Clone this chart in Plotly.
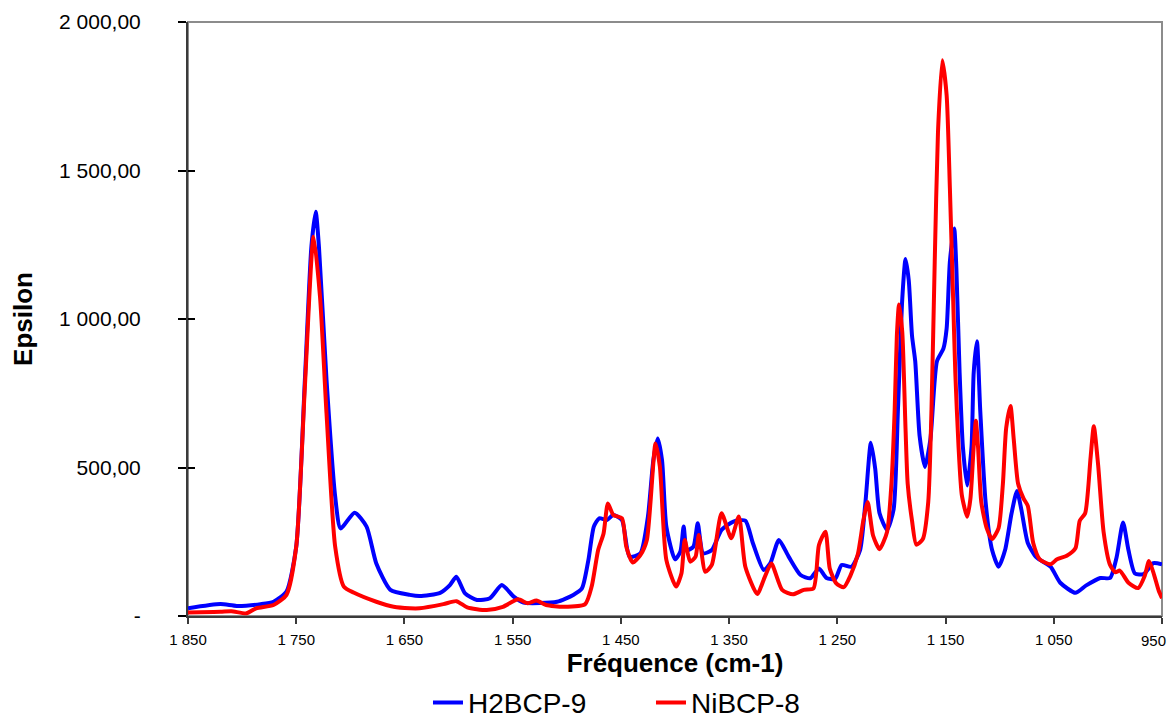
import plotly.graph_objects as go

# IR spectra: wavenumber (cm-1) and molar absorptivity
wn_h2 = [1850, 1820, 1805, 1783, 1771, 1759, 1750, 1742, 1736, 1732, 1729, 1722, 1714, 1709,
         1696, 1685, 1676, 1663, 1645, 1636, 1617, 1608, 1602, 1594, 1583, 1571, 1560, 1549,
         1540, 1509, 1494, 1486, 1480, 1475, 1470, 1463, 1457, 1449, 1442, 1432, 1425, 1420,
         1416, 1412, 1408, 1400, 1395, 1392, 1389, 1383, 1379, 1374, 1366, 1357, 1346, 1335,
         1328, 1318, 1312, 1304, 1295, 1284, 1275, 1267, 1260, 1252, 1246, 1237, 1229, 1224,
         1219, 1215, 1211, 1204, 1198, 1194, 1190, 1187, 1184, 1181, 1178, 1174, 1169, 1164,
         1158, 1152, 1149, 1146, 1142, 1140, 1137, 1134, 1130, 1126, 1124, 1121, 1118, 1113,
         1107, 1101, 1095, 1089, 1084, 1080, 1074, 1066, 1053, 1044, 1030, 1020, 1007, 998,
         992, 986, 981, 975, 967, 958, 950]
eps_h2 = [26, 40, 34, 40, 48, 82, 233, 795, 1243, 1361, 1243, 795, 402, 295,
          348, 301, 177, 88, 71, 67, 78, 104, 132, 76, 54, 60, 104, 65,
          45, 48, 71, 93, 189, 301, 329, 323, 340, 323, 200, 211, 335, 525,
          598, 525, 301, 191, 217, 301, 222, 233, 312, 211, 222, 290, 318, 321,
          245, 155, 177, 256, 200, 138, 127, 160, 128, 125, 172, 166, 222, 384,
          583, 496, 346, 290, 359, 695, 1068, 1202, 1130, 944, 857, 607, 502, 595,
          857, 900, 968, 1193, 1305, 1168, 819, 570, 439, 570, 819, 925, 695, 384,
          222, 166, 222, 346, 421, 359, 246, 197, 166, 112, 78, 103, 128, 128,
          197, 315, 222, 143, 141, 178, 174]

wn_ni = [1850, 1820, 1810, 1796, 1787, 1771, 1759, 1750, 1742, 1734, 1728, 1722, 1714, 1706,
         1697, 1676, 1660, 1645, 1636, 1614, 1602, 1592, 1574, 1559, 1545, 1536, 1528, 1519,
         1503, 1483, 1477, 1471, 1466, 1462, 1457, 1449, 1445, 1439, 1432, 1426, 1418, 1414,
         1408, 1399, 1394, 1391, 1386, 1381, 1378, 1372, 1366, 1357, 1348, 1341, 1335, 1324,
         1317, 1311, 1301, 1291, 1281, 1272, 1267, 1261, 1257, 1251, 1244, 1238, 1231, 1226,
         1222, 1217, 1211, 1204, 1200, 1197, 1195, 1193, 1190, 1187, 1185, 1181, 1177, 1171,
         1166, 1163, 1160, 1157, 1153, 1149, 1146, 1143, 1141, 1138, 1135, 1130, 1127, 1124,
         1122, 1120, 1117, 1112, 1107, 1101, 1097, 1094, 1090, 1087, 1083, 1078, 1074, 1069,
         1063, 1053, 1047, 1038, 1030, 1026, 1021, 1016, 1013, 1009, 1004, 998, 993, 989,
         981, 972, 966, 962, 958, 953, 950]
eps_ni = [12, 14, 16, 9, 26, 37, 71, 233, 772, 1277, 1075, 682, 233, 99,
          79, 48, 31, 26, 26, 40, 50, 29, 20, 31, 56, 43, 52, 37,
          31, 40, 99, 222, 278, 379, 340, 329, 233, 180, 205, 256, 581, 503,
          189, 99, 144, 256, 183, 200, 273, 149, 172, 346, 262, 335, 166, 74,
          132, 177, 88, 73, 88, 93, 239, 284, 160, 110, 97, 135, 209, 321,
          384, 271, 225, 284, 446, 695, 944, 1049, 956, 632, 446, 321, 240, 259,
          384, 695, 1193, 1629, 1871, 1753, 1441, 1068, 819, 570, 408, 334, 396, 570,
          657, 570, 384, 296, 259, 296, 446, 632, 707, 595, 446, 396, 371, 246,
          191, 174, 191, 203, 228, 321, 346, 533, 639, 508, 284, 172, 147, 153,
          112, 94, 135, 185, 147, 85, 60]

x_ticks = [1850, 1750, 1650, 1550, 1450, 1350, 1250, 1150, 1050, 950]
x_tick_text = ["1 850", "1 750", "1 650", "1 550", "1 450", "1 350", "1 250", "1 150", "1 050", "950"]
y_ticks = [0, 500, 1000, 1500, 2000]
y_tick_text = ["-", "500,00", "1 000,00", "1 500,00", "2 000,00"]

AXIS_COLOR = "#3a3a3a"
FRAME_COLOR = "#8c8c8c"
FONT = "Liberation Sans, Arial, sans-serif"
XTICK_FONT = dict(family=FONT, size=15, color="black")

fig = go.Figure()
fig.add_trace(go.Scatter(x=wn_h2, y=eps_h2, name="H2BCP-9", mode="lines",
                         line=dict(color="#0000ff", width=4, shape="spline", smoothing=0.6)))
fig.add_trace(go.Scatter(x=wn_ni, y=eps_ni, name="NiBCP-8", mode="lines",
                         line=dict(color="#ff0000", width=4, shape="spline", smoothing=0.6)))
# empty trace so the overlay axis (inner half of the crossing ticks) is drawn
fig.add_trace(go.Scatter(x=[None], y=[None], yaxis="y2", showlegend=False, hoverinfo="skip"))

# light frame around the plotting area (top and right edges show)
fig.add_shape(type="rect", xref="paper", yref="paper", x0=0, x1=1, y0=0, y1=1,
              line=dict(color=FRAME_COLOR, width=2), layer="below")

# the last x label sits at the page edge: draw it right-aligned so it stays visible
axis_labels = [t if v != x_ticks[-1] else "" for v, t in zip(x_ticks, x_tick_text)]
fig.add_annotation(x=x_ticks[-1], xref="x", y=0, yref="paper", text=x_tick_text[-1],
                   showarrow=False, xanchor="right", yanchor="top", xshift=6, yshift=-14,
                   font=XTICK_FONT)

fig.update_layout(
    width=1172, height=720,
    margin=dict(l=188, r=10, t=22, b=104, autoexpand=False),
    paper_bgcolor="white", plot_bgcolor="white",
    font=dict(family=FONT, color="black"),
    showlegend=True,
    legend=dict(orientation="h", x=0.2464, xanchor="left", y=-0.146, yanchor="middle",
                font=dict(family=FONT, size=28), entrywidth=178, tracegroupgap=0,
                borderwidth=0, bgcolor="rgba(0,0,0,0)"),
    xaxis=dict(range=[1850, 950], tickvals=x_ticks, ticktext=axis_labels,
               showgrid=False, zeroline=False, showline=True, linecolor=AXIS_COLOR, linewidth=2,
               ticks="outside", ticklen=6, tickcolor=AXIS_COLOR, tickwidth=1.5,
               ticklabelstandoff=3,
               tickfont=XTICK_FONT,
               title=dict(text="<b>Fréquence (cm-1)</b>", font=dict(family=FONT, size=26), standoff=0)),
    yaxis=dict(range=[0, 2000], tickvals=y_ticks, ticktext=y_tick_text,
               showgrid=False, zeroline=False, showline=True, linecolor=AXIS_COLOR, linewidth=2,
               ticks="outside", ticklen=8, tickcolor="black", tickwidth=1.5,
               ticklabelstandoff=33,
               tickfont=dict(family=FONT, size=21),
               title=dict(text="<b>Epsilon</b>", font=dict(family=FONT, size=26), standoff=19)),
    yaxis2=dict(range=[0, 2000], overlaying="y", side="left", tickvals=y_ticks,
                showticklabels=False, showgrid=False, zeroline=False, showline=False,
                ticks="inside", ticklen=7, tickcolor="black", tickwidth=1.5),
)

fig.write_html("out.html")
